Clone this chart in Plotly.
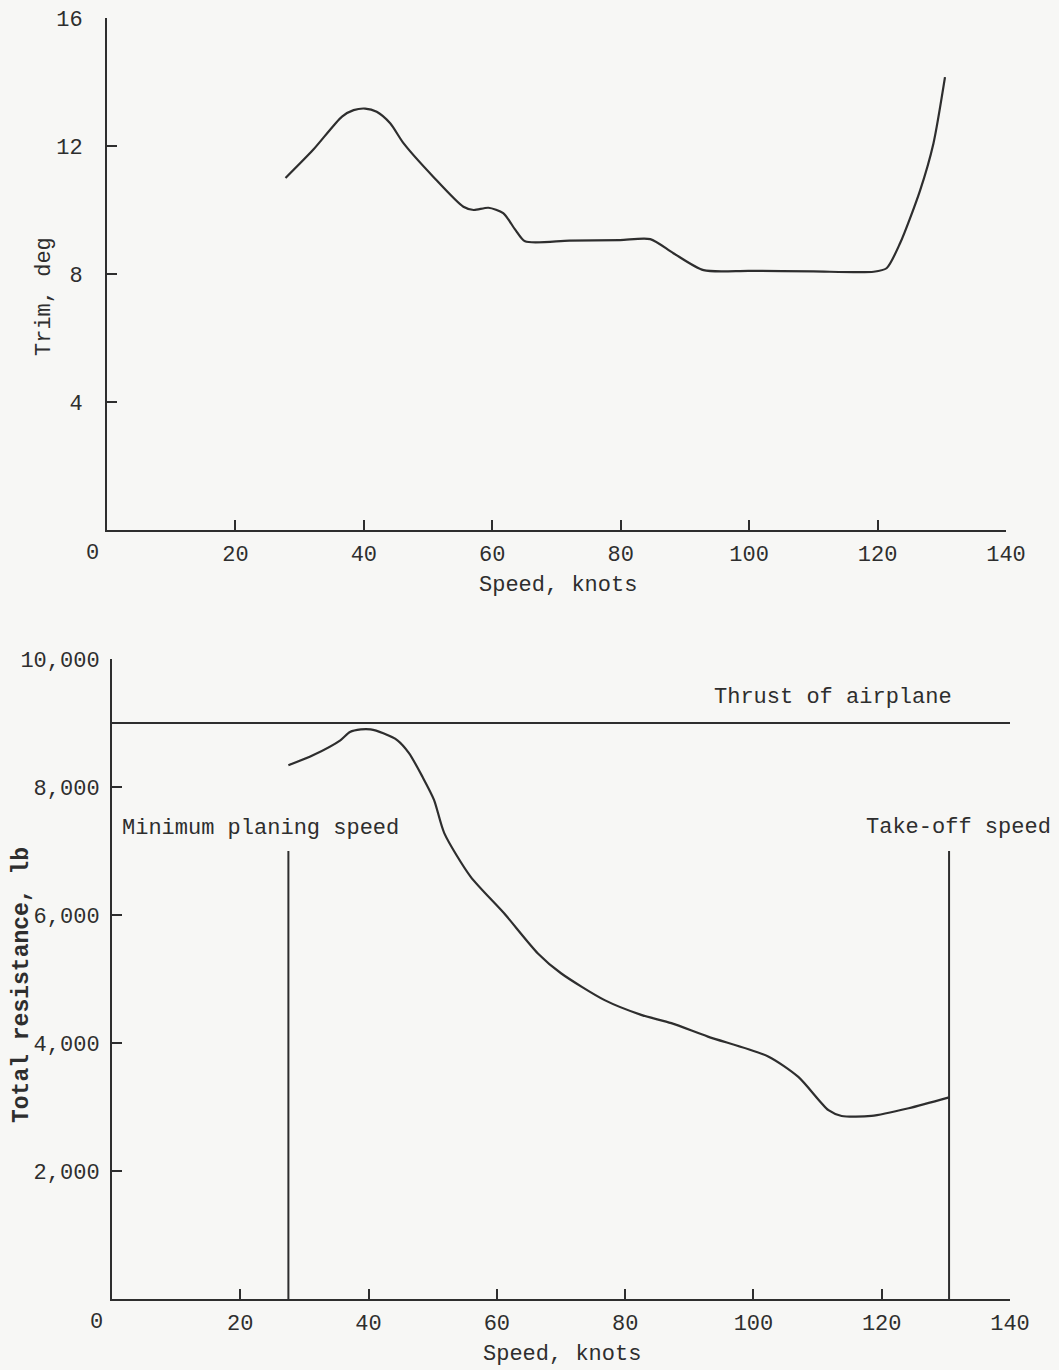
import plotly.graph_objects as go

# ---- Data ----
speed_trim = [27.8, 32.1, 36.6, 38.4, 40.2, 42.0, 44.1, 46.2, 50.8, 55.5, 57.1, 59.4, 61.7, 63.6, 65.1,
              72.0, 79.9, 84.6, 88.2, 92.9, 100.0, 110.0, 119.4, 121.4, 123.5, 126.6, 128.7, 130.5]
trim_deg = [11.0, 11.88, 12.92, 13.12, 13.17, 13.07, 12.71, 12.08, 11.04, 10.10, 10.0, 10.07, 9.9, 9.38, 9.02,
            9.04, 9.06, 9.09, 8.65, 8.12, 8.1, 8.08, 8.07, 8.18, 8.96, 10.6, 12.08, 14.15]

speed_res = [27.5, 31.4, 35.6, 37.1, 38.8, 40.3, 42.3, 44.5, 46.3, 48.4, 50.2, 51.8, 55.9, 61.1, 66.4,
             70.0, 76.8, 82.5, 87.2, 92.9, 102.3, 107.0, 111.7, 113.75, 118.4, 124.2, 130.5]
resistance_lb = [8340, 8500, 8730, 8860, 8900, 8900, 8840, 8730, 8530, 8160, 7800, 7280, 6600, 6030, 5400,
                 5090, 4670, 4440, 4310, 4100, 3790, 3470, 2950, 2860, 2860, 2980, 3150]

thrust_lb = 9000
min_planing_speed = 27.5
takeoff_speed = 130.5
marker_line_top = 7000

x_ticks = [20, 40, 60, 80, 100, 120, 140]
x_ticktext = ["20", "40", "60", "80", "100", "120", "140"]
trim_ticks = [4, 8, 12, 16]
res_ticks = [2000, 4000, 6000, 8000, 10000]
res_ticktext = ["2,000", "4,000", "6,000", "8,000", "10,000"]

INK = "#2e2e2e"
BG = "#f7f7f5"
FONT = "Liberation Mono"
FS = 22

W, H = 1059, 1370


def px(p):
    return p / W


def py(p):
    return 1 - p / H


fig = go.Figure()

line_style = dict(color=INK, width=2.2, shape="spline", smoothing=0.7)
straight = dict(color=INK, width=2)

fig.add_trace(go.Scatter(x=speed_trim, y=trim_deg, mode="lines", line=line_style,
                         xaxis="x", yaxis="y", showlegend=False, hoverinfo="skip"))
fig.add_trace(go.Scatter(x=speed_res, y=resistance_lb, mode="lines", line=line_style,
                         xaxis="x2", yaxis="y2", showlegend=False, hoverinfo="skip"))
fig.add_trace(go.Scatter(x=[0, 140], y=[thrust_lb, thrust_lb], mode="lines", line=straight,
                         xaxis="x2", yaxis="y2", showlegend=False, hoverinfo="skip"))
fig.add_trace(go.Scatter(x=[min_planing_speed, min_planing_speed], y=[0, marker_line_top],
                         mode="lines", line=straight,
                         xaxis="x2", yaxis="y2", showlegend=False, hoverinfo="skip"))
fig.add_trace(go.Scatter(x=[takeoff_speed, takeoff_speed], y=[0, marker_line_top],
                         mode="lines", line=straight,
                         xaxis="x2", yaxis="y2", showlegend=False, hoverinfo="skip"))

axis_common = dict(showline=True, linecolor=INK, linewidth=2, ticks="inside", ticklen=10,
                   tickwidth=1.5, tickcolor=INK, showgrid=False, zeroline=False,
                   automargin=False, tickfont=dict(family=FONT, size=FS, color=INK))

fig.update_layout(
    width=W, height=H, autosize=False,
    margin=dict(l=0, r=0, t=0, b=0, pad=0),
    paper_bgcolor=BG, plot_bgcolor=BG,
    font=dict(family=FONT, color=INK, size=FS),
    xaxis=dict(domain=[px(107), px(1006)], range=[0, 140], anchor="y",
               tickvals=x_ticks, ticktext=x_ticktext, ticklabelstandoff=3, **axis_common),
    yaxis=dict(domain=[py(530), py(18)], range=[0, 16], anchor="x",
               tickvals=trim_ticks, ticklabelstandoff=18, **axis_common),
    xaxis2=dict(domain=[px(112), px(1010)], range=[0, 140], anchor="y2",
                tickvals=x_ticks, ticktext=x_ticktext, ticklabelstandoff=3, **axis_common),
    yaxis2=dict(domain=[py(1299), py(659)], range=[0, 10000], anchor="x2",
                tickvals=res_ticks, ticktext=res_ticktext, ticklabelstandoff=6, **axis_common),
)

tf = dict(family=FONT, size=FS, color=INK)
ann = []
ann.append(dict(text="0", x=0, y=0, xref="x", yref="y", xshift=-15, yshift=-23,
                xanchor="center", yanchor="middle", showarrow=False, font=tf))
ann.append(dict(text="0", x=0, y=0, xref="x2", yref="y2", xshift=-16, yshift=-23,
                xanchor="center", yanchor="middle", showarrow=False, font=tf))
ann.append(dict(text="Speed, knots", x=px(558), y=py(586), xref="paper", yref="paper",
                xanchor="center", yanchor="middle", showarrow=False, font=tf))
ann.append(dict(text="Speed, knots", x=px(562), y=py(1354), xref="paper", yref="paper",
                xanchor="center", yanchor="middle", showarrow=False, font=tf))
ann.append(dict(text="Trim, deg", x=px(45), y=py(297), xref="paper", yref="paper",
                xanchor="center", yanchor="middle", textangle=-90, showarrow=False, font=tf))
ann.append(dict(text="<b>Total resistance, lb</b>", x=px(22), y=py(985), xref="paper", yref="paper",
                xanchor="center", yanchor="middle", textangle=-90, showarrow=False,
                font=dict(family=FONT, size=23, color=INK)))
ann.append(dict(text="Thrust of airplane", x=px(833), y=py(697), xref="paper", yref="paper",
                xanchor="center", yanchor="middle", showarrow=False, font=tf))
ann.append(dict(text="Minimum planing speed", x=px(120), y=py(828), xref="paper", yref="paper",
                xanchor="left", yanchor="middle", showarrow=False, font=tf))
ann.append(dict(text="Take-off speed", x=px(1053), y=py(827), xref="paper", yref="paper",
                xanchor="right", yanchor="middle", showarrow=False, font=tf))
fig.update_layout(annotations=ann)

fig.write_html(
    "out.html",
    config={"displayModeBar": False},
    post_script="document.body.style.margin='0';document.body.style.background='%s';" % BG,
)
